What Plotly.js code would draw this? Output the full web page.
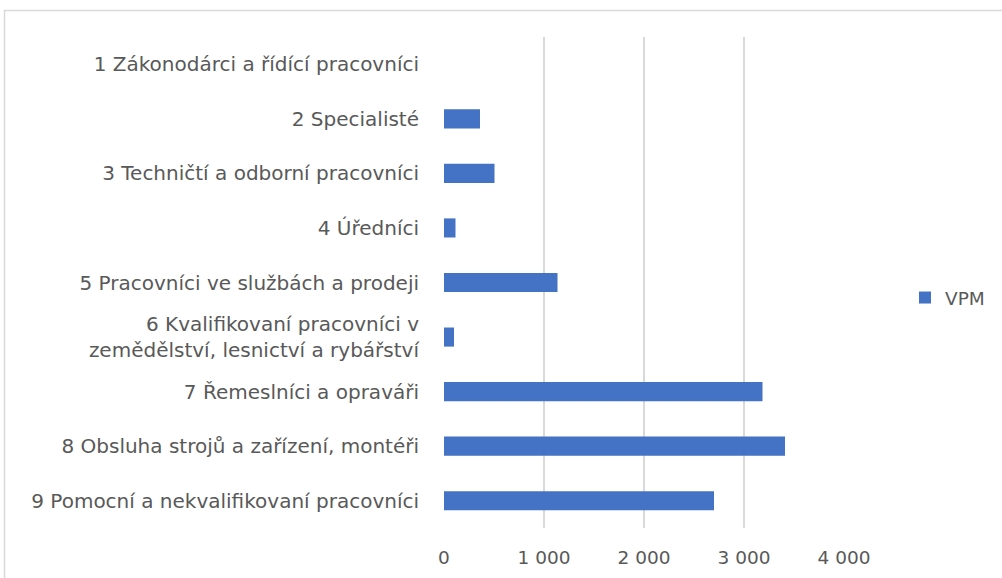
<!DOCTYPE html>
<html>
<head>
<meta charset="utf-8">
<script src="https://cdn.plot.ly/plotly-3.0.1.min.js"></script>
<style>html,body{margin:0;padding:0;background:#fff;}#chart{width:1002px;height:578px;}</style>
</head>
<body>
<div id="chart"></div>
<script>
const categories = [
  "1 Zákonodárci a řídící pracovníci",
  "2 Specialisté",
  "3 Techničtí a odborní pracovníci",
  "4 Úředníci",
  "5 Pracovníci ve službách a prodeji",
  "6 Kvalifikovaní pracovníci v<br>zemědělství, lesnictví a rybářství",
  "7 Řemeslníci a opraváři",
  "8 Obsluha strojů a zařízení, montéři",
  "9 Pomocní a nekvalifikovaní pracovníci"
];
const seriesName = "VPM";
const values = [0, 360, 505, 115, 1135, 100, 3185, 3410, 2700];
const xTicks = [0, 1000, 2000, 3000, 4000];

const trace = {
  type: 'bar',
  orientation: 'h',
  y: categories,
  x: values,
  name: seriesName,
  marker: {color: '#4472C4', line: {width: 0}},
  showlegend: true,
  hoverinfo: 'x+y'
};

const L = 444, R = 844, T = 37, B = 528;
const W = 1002, H = 578;
const px = v => (v - L) / (R - L);
const py = v => (B - v) / (B - T);
const FONT = 'DejaVu Sans, sans-serif';

const layout = {
  width: W, height: H,
  margin: {l: L, r: W - R, t: T, b: H - B, pad: 0},
  paper_bgcolor: '#fff', plot_bgcolor: '#fff',
  separators: ', ',
  font: {family: FONT, size: 18, color: '#595959'},
  bargap: 0.65,
  xaxis: {
    range: [0, 4000], tickvals: xTicks, tickformat: ',d',
    showgrid: true, gridcolor: '#d9d9d9', gridwidth: 1.5,
    zeroline: false, showline: false, ticks: '',
    tickfont: {family: FONT, size: 18.5, color: '#595959'},
    ticklabelstandoff: 16, fixedrange: true
  },
  yaxis: {
    type: 'category', autorange: 'reversed',
    showgrid: false, zeroline: false, showline: false, ticks: '',
    tickfont: {family: FONT, size: 20, color: '#595959'},
    ticklabelstandoff: 24, fixedrange: true
  },
  legend: {
    x: px(905), y: py(298), xanchor: 'left', yanchor: 'middle',
    font: {family: FONT, size: 18.5, color: '#595959'}, bgcolor: 'rgba(0,0,0,0)',
    itemwidth: 30
  },
  shapes: [{
    type: 'rect', xref: 'paper', yref: 'paper',
    x0: px(4.5), x1: px(1010), y0: py(590), y1: py(10.5),
    line: {color: '#d9d9d9', width: 1.5}, fillcolor: 'rgba(0,0,0,0)', layer: 'below'
  }]
};

Plotly.newPlot('chart', [trace], layout, {displayModeBar: false, staticPlot: true});
</script>
</body>
</html>
